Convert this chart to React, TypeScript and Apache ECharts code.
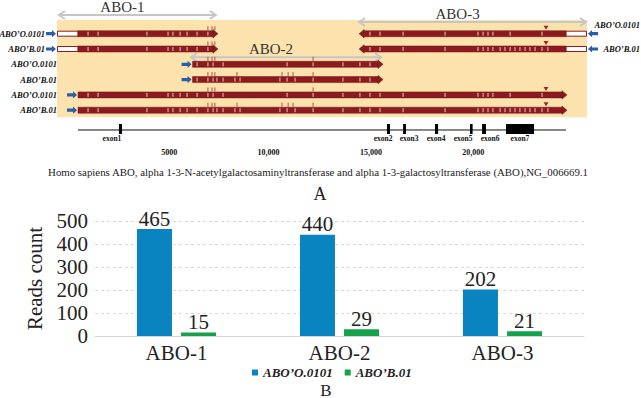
import React, { useEffect, useRef } from 'react';
import * as echarts from 'echarts';

// ---------- data ----------
const regionNames = ['ABO-1', 'ABO-2', 'ABO-3'];
const regionStart = [-930, 5520, 13740];
const regionEnd = [6840, 14910, 24930];

const alleleNames = ['ABO’O.0101', 'ABO’B.01'];
const readsCountO = [465, 440, 202];
const readsCountB = [15, 29, 21];

// reads (genome coordinates, NG_006669.1)
const readStart = [-980, -980, 5650, 5650, 13790, 13790, 50, 50];
const readEnd = [6890, 6890, 14960, 14960, 24930, 24930, 23950, 23950];
const readRow = [0, 1, 2, 3, 0, 1, 4, 5];
const readDir = [1, 1, 1, 1, -1, -1, 1, 1];
const readAllele = [0, 1, 0, 1, 0, 1, 0, 1];

const geneStart = 50;
const geneEnd = 23900;

const variantsO = [540, 1030, 3420, 4450, 4690, 5040, 5380, 5870, 6400, 6650, 7140, 10270, 11540, 13000, 13830, 14320, 14810, 15940, 17990, 19600, 19850, 20090, 20330, 21170, 22730];
const variantsBExtra = [6840, 7720, 7970, 9920, 10660, 20680, 20920, 21410, 21650, 21900, 22140, 22390, 23020];
const markerTicksO = [6400, 6600, 6740, 11540];
const markerTicksB = [6400, 6600, 6740, 7820, 10020, 10320, 10560, 11540];
const deletionMarks = [22925];

const exonNames = ['exon1', 'exon2', 'exon3', 'exon4', 'exon5', 'exon6', 'exon7'];
const exonStart = [2050, 15150, 15940, 17500, 19210, 19800, 20970];
const exonEnd = [2200, 15300, 16080, 17650, 19310, 19990, 22340];
const exonLabelAt = [1710, 14960, 16230, 17550, 18870, 20190, 21650];

const scaleTickValues = [5000, 10000, 15000, 20000];
const scaleTickLabels = ['5000', '10,000', '15,000', '20,000'];

const caption = 'Homo sapiens ABO, alpha 1-3-N-acetylgalactosaminyltransferase and alpha 1-3-galactosyltransferase (ABO),NG_006669.1';

// ---------- styles ----------
const SERIF = '"Liberation Serif", "Times New Roman", serif';
const RED = '#8c1b1f';
const RED_DARK = '#6e1014';
const BEIGE = '#fce3ae';
const ARROW_BLUE = '#2a5fa5';
const GRAY = '#c6c6c6';
const GENE_ROW = 6.294;
const regionLevel = [-1.22, 1.54, -0.765];

function buildOption(): any {
  const bgData = [[Math.min(...readStart), Math.max(...readEnd)]];
  const readData = readStart.map((s, i) => [s, readEnd[i], readRow[i], readDir[i], readAllele[i], i]);
  const regionData = regionNames.map((_, i) => [regionStart[i], regionEnd[i], regionLevel[i], i]);
  const exonData = exonNames.map((_, i) => [exonStart[i], exonEnd[i], exonLabelAt[i], i]);
  const variantsB = variantsO.concat(variantsBExtra);
  const minStart = Math.min(...readStart);

  const labelFont = { fontSize: 8.5, fontFamily: SERIF, fontWeight: 'bold', fontStyle: 'italic', fill: '#111' };

  const blueArrow = (x0: number, y: number, dir: number) => {
    const L = 10;
    const pts = dir > 0
      ? [[x0, y - 1.6], [x0 + 6, y - 1.6], [x0 + 6, y - 3.6], [x0 + L, y], [x0 + 6, y + 3.6], [x0 + 6, y + 1.6], [x0, y + 1.6]]
      : [[x0 + L, y - 1.6], [x0 + 4, y - 1.6], [x0 + 4, y - 3.6], [x0, y], [x0 + 4, y + 3.6], [x0 + 4, y + 1.6], [x0 + L, y + 1.6]];
    return { type: 'polygon', shape: { points: pts }, style: { fill: ARROW_BLUE } };
  };

  return {
    animation: false,
    grid: [
      { left: 77, width: 491, top: 18.4, height: 125.6 },
      { left: 95, right: 57, top: 221, bottom: 62 },
    ],
    xAxis: [
      {
        type: 'value', gridIndex: 0, min: 0, max: 24000,
        axisLine: { lineStyle: { color: '#000', width: 1 } },
        axisTick: { inside: true, length: 5, customValues: scaleTickValues, lineStyle: { color: '#000' } },
        axisLabel: {
          customValues: scaleTickValues,
          formatter: (v: number) => scaleTickLabels[scaleTickValues.indexOf(v)] ?? '',
          align: 'right', margin: 4, fontSize: 8, fontWeight: 'bold', fontFamily: SERIF, color: '#111',
          padding: [0, 2, 0, 0],
        },
        splitLine: { show: false },
      },
      {
        type: 'category', gridIndex: 1, data: regionNames,
        axisTick: { show: false },
        axisLine: { lineStyle: { color: '#d3d3d3' } },
        axisLabel: { fontSize: 21, fontFamily: SERIF, color: '#222', margin: 6 },
      },
    ],
    yAxis: [
      { type: 'value', gridIndex: 0, inverse: true, min: -1, max: 7.2092, show: false },
      {
        type: 'value', gridIndex: 1, min: 0, max: 500, interval: 100,
        name: 'Reads count', nameLocation: 'middle', nameGap: 49, nameRotate: 90,
        nameTextStyle: { fontSize: 21, fontFamily: SERIF, color: '#222' },
        axisLabel: { fontSize: 21, fontFamily: SERIF, color: '#222', margin: 7 },
        axisLine: { show: false }, axisTick: { show: false },
        splitLine: { lineStyle: { type: [3, 3], color: '#d9d9d9' } },
      },
    ],
    legend: {
      data: alleleNames, left: 247, top: 361, itemWidth: 6, itemHeight: 6, itemGap: 12, icon: 'rect',
      textStyle: { fontSize: 13, fontFamily: SERIF, fontWeight: 'bold', fontStyle: 'italic', color: '#222' },
    },
    graphic: [
      { type: 'text', x: 318, y: 172, style: { text: caption, fontSize: 10.85, fontFamily: SERIF, fill: '#222', align: 'center', verticalAlign: 'middle' } },
      { type: 'text', x: 320, y: 194, style: { text: 'A', fontSize: 18, fontFamily: SERIF, fill: '#222', align: 'center', verticalAlign: 'middle' } },
      { type: 'text', x: 326, y: 390, style: { text: 'B', fontSize: 17, fontFamily: SERIF, fill: '#222', align: 'center', verticalAlign: 'middle' } },
    ],
    series: [
      {
        type: 'custom', name: 'bg', xAxisIndex: 0, yAxisIndex: 0, clip: false, silent: true, z: 1,
        data: bgData,
        renderItem: (_p: any, api: any) => {
          const a = api.coord([api.value(0), 0]);
          const b = api.coord([api.value(1), 5]);
          const top = a[1] - 13.7;
          return { type: 'rect', shape: { x: a[0], y: top, width: b[0] - a[0], height: b[1] + 7 - top }, style: { fill: BEIGE } };
        },
      },
      {
        type: 'custom', name: 'regions', xAxisIndex: 0, yAxisIndex: 0, clip: false, silent: true, z: 3,
        data: regionData,
        renderItem: (_p: any, api: any) => {
          const a = api.coord([api.value(0), api.value(2)]);
          const b = api.coord([api.value(1), api.value(2)]);
          const y = a[1];
          const idx = api.value(3);
          const st = { stroke: GRAY, lineWidth: 2, fill: null };
          return {
            type: 'group', children: [
              { type: 'line', shape: { x1: a[0] + 1, y1: y, x2: b[0] - 1, y2: y }, style: st },
              { type: 'polyline', shape: { points: [[a[0] + 7, y - 4], [a[0] + 1, y], [a[0] + 7, y + 4]] }, style: st },
              { type: 'polyline', shape: { points: [[b[0] - 7, y - 4], [b[0] - 1, y], [b[0] - 7, y + 4]] }, style: st },
              { type: 'text', style: { text: regionNames[idx], x: (a[0] + b[0]) / 2 - 15, y: y - 8, align: 'center', verticalAlign: 'middle', fontSize: 15, fontFamily: SERIF, fill: '#333' } },
            ],
          };
        },
      },
      {
        type: 'custom', name: 'reads', xAxisIndex: 0, yAxisIndex: 0, clip: false, silent: true, z: 4,
        data: readData,
        renderItem: (_p: any, api: any) => {
          const s = api.value(0), e = api.value(1), r = api.value(2), dir = api.value(3), al = api.value(4);
          const p0 = api.coord([s, r]);
          const xs = p0[0], y = p0[1];
          const xe = api.coord([e, r])[0];
          const gs = api.coord([geneStart, r])[0];
          const ge = api.coord([geneEnd, r])[0];
          const bgLeft = api.coord([minStart, r])[0];
          const HEAD = 5, HH = 4.2;
          let b0 = xs, b1 = xe;
          const children: any[] = [];
          let head: any;
          if (dir > 0) {
            b1 = xe - HEAD;
            head = { type: 'polygon', shape: { points: [[b1, y - HH], [xe, y], [b1, y + HH]] }, style: { fill: RED, stroke: RED_DARK, lineWidth: 0.5 } };
          } else {
            b0 = xs + HEAD;
            head = { type: 'polygon', shape: { points: [[b0, y - HH], [xs, y], [b0, y + HH]] }, style: { fill: RED, stroke: RED_DARK, lineWidth: 0.5 } };
          }
          const r0 = Math.max(b0, gs), r1 = Math.min(b1, ge);
          if (b0 < gs) children.push({ type: 'rect', shape: { x: b0 + 0.5, y: y - 2.5, width: gs - b0 - 0.5, height: 5 }, style: { fill: '#fff', stroke: RED, lineWidth: 1 } });
          if (b1 > ge) children.push({ type: 'rect', shape: { x: ge, y: y - 2.5, width: b1 - ge - 0.5, height: 5 }, style: { fill: '#fff', stroke: RED, lineWidth: 1 } });
          children.push({ type: 'rect', shape: { x: r0, y: y - 3, width: r1 - r0, height: 6 }, style: { fill: RED, stroke: RED_DARK, lineWidth: 0.5 } });
          children.push(head);
          const vars = al === 0 ? variantsO : variantsB;
          vars.forEach((v) => {
            if (v > s && v < e && v > geneStart && v < geneEnd) {
              const x = api.coord([v, r])[0];
              if (x > r0 + 1 && x < r1 - 1) children.push({ type: 'line', shape: { x1: x, y1: y - 2, x2: x, y2: y + 2 }, style: { stroke: '#f2c3c3', lineWidth: 1 } });
            }
          });
          const marks = al === 0 ? markerTicksO : markerTicksB;
          marks.forEach((v) => {
            if (v > s && v < e) {
              const x = api.coord([v, r])[0];
              children.push({ type: 'line', shape: { x1: x, y1: y - 7.5, x2: x, y2: y - 3.5 }, style: { stroke: '#9a3030', lineWidth: 0.8 } });
            }
          });
          deletionMarks.forEach((v) => {
            if (v > s && v < e) {
              const x = api.coord([v, r])[0];
              children.push({ type: 'polygon', shape: { points: [[x - 2.5, y - 8], [x + 2.5, y - 8], [x, y - 4]] }, style: { fill: '#9a2a2a' } });
            }
          });
          const name = alleleNames[al];
          if (dir > 0) {
            const ax = xs - 11;
            children.push(blueArrow(ax, y, 1));
            const lx = Math.min(ax - 1, bgLeft);
            children.push({ type: 'text', style: { ...labelFont, text: name, x: lx, y, align: 'right', verticalAlign: 'middle' } });
          } else {
            const ax = xe + 1;
            children.push(blueArrow(ax, y, -1));
            const W = api.getWidth();
            const est = name.length * 4.75;
            const raise = W - 1 - est < ax + 11;
            children.push({ type: 'text', style: { ...labelFont, text: name, x: W - 1, y: raise ? y - 8.5 : y, align: 'right', verticalAlign: 'middle' } });
          }
          return { type: 'group', children };
        },
      },
      {
        type: 'custom', name: 'geneLine', xAxisIndex: 0, yAxisIndex: 0, clip: false, silent: true, z: 3,
        data: [[geneStart, geneEnd]],
        renderItem: (_p: any, api: any) => {
          const a = api.coord([api.value(0), GENE_ROW]);
          const b = api.coord([api.value(1), GENE_ROW]);
          return { type: 'line', shape: { x1: a[0], y1: a[1], x2: b[0], y2: b[1] }, style: { stroke: '#111', lineWidth: 1 } };
        },
      },
      {
        type: 'custom', name: 'exons', xAxisIndex: 0, yAxisIndex: 0, clip: false, silent: true, z: 4,
        data: exonData,
        renderItem: (_p: any, api: any) => {
          const a = api.coord([api.value(0), GENE_ROW]);
          const b = api.coord([api.value(1), GENE_ROW]);
          const lx = api.coord([api.value(2), GENE_ROW])[0];
          const idx = api.value(3);
          const w = Math.max(b[0] - a[0], 2.6);
          return {
            type: 'group', children: [
              { type: 'rect', shape: { x: a[0], y: a[1] - 6, width: w, height: 10 }, style: { fill: '#000' } },
              { type: 'text', style: { text: exonNames[idx], x: lx, y: a[1] + 9, align: 'center', verticalAlign: 'middle', fontSize: 7.5, fontWeight: 'bold', fontFamily: SERIF, fill: '#111' } },
            ],
          };
        },
      },
      {
        type: 'bar', name: alleleNames[0], xAxisIndex: 1, yAxisIndex: 1, data: readsCountO,
        barWidth: 35, barGap: '26%', itemStyle: { color: '#0a83c1' },
        label: { show: true, position: 'top', distance: 0, fontSize: 21, fontFamily: SERIF, color: '#222' },
      },
      {
        type: 'bar', name: alleleNames[1], xAxisIndex: 1, yAxisIndex: 1, data: readsCountB,
        barWidth: 35, barGap: '26%', itemStyle: { color: '#16a14b' },
        label: { show: true, position: 'top', distance: 0, fontSize: 21, fontFamily: SERIF, color: '#222' },
      },
    ],
  };
}

export default function App() {
  const ref = useRef<HTMLDivElement>(null);
  useEffect(() => {
    document.body.style.margin = '0';
    const chart = echarts.init(ref.current!, null, { renderer: 'svg' });
    chart.setOption(buildOption());
    return () => chart.dispose();
  }, []);
  return <div ref={ref} style={{ width: 641, height: 398, background: '#fff' }} />;
}
